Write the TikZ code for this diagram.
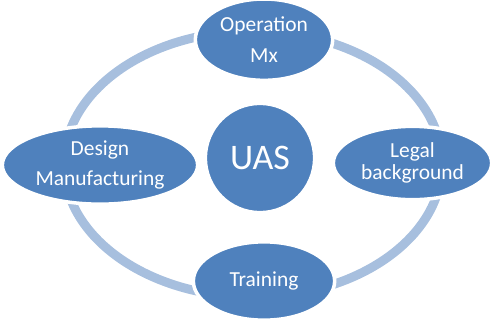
\documentclass[tikz,border=0pt]{standalone}
\usepackage{fontspec}
\setmainfont{Carlito}
\usetikzlibrary{shapes.geometric,positioning}
\definecolor{nodeblue}{RGB}{79,129,189}
\definecolor{ringblue}{RGB}{167,191,222}
\tikzset{
	node distance=3.6cm,
	every node/.style = {draw=white, line width=3pt, fill=nodeblue, text=white, inner sep=0pt, align=center},
	topic/.style = {ellipse, font=\fontsize{18.3pt}{19.2pt}\selectfont}
}

\begin{document}
\begin{tikzpicture}[ring/.style={draw=ringblue, line width=0.27cm}]
	\useasboundingbox (-7.8,-4.95) rectangle (6.99,4.74);
	\draw [ring] (-0.21,-0.18) ellipse [x radius=5.67cm, y radius=3.99cm];
	\node (uas) [circle, minimum size=3.28cm, font=\fontsize{30.7pt}{36pt}\selectfont] at (0,0) {UAS};
	\node (ops) [topic, above of=uas, yshift=-0.05cm, xshift=0.12cm, minimum width=4.12cm, minimum height=2.44cm] {Operation\\[7pt]Mx};
	\node (train) [topic, below of=uas, node distance=3.69cm, xshift=0.12cm, minimum width=4.24cm, minimum height=2.35cm] {Training};
	\node (design) [topic, left of=uas, node distance=4.8cm, yshift=-0.21cm, minimum width=5.86cm, minimum height=2.35cm] {Design\\[6.4pt]Manufacturing};
	\node (legal) [topic, right of=uas, node distance=4.575cm, yshift=-0.15cm, minimum width=4.75cm, minimum height=2.2cm] {Legal\\background};
\end{tikzpicture}
\end{document}
